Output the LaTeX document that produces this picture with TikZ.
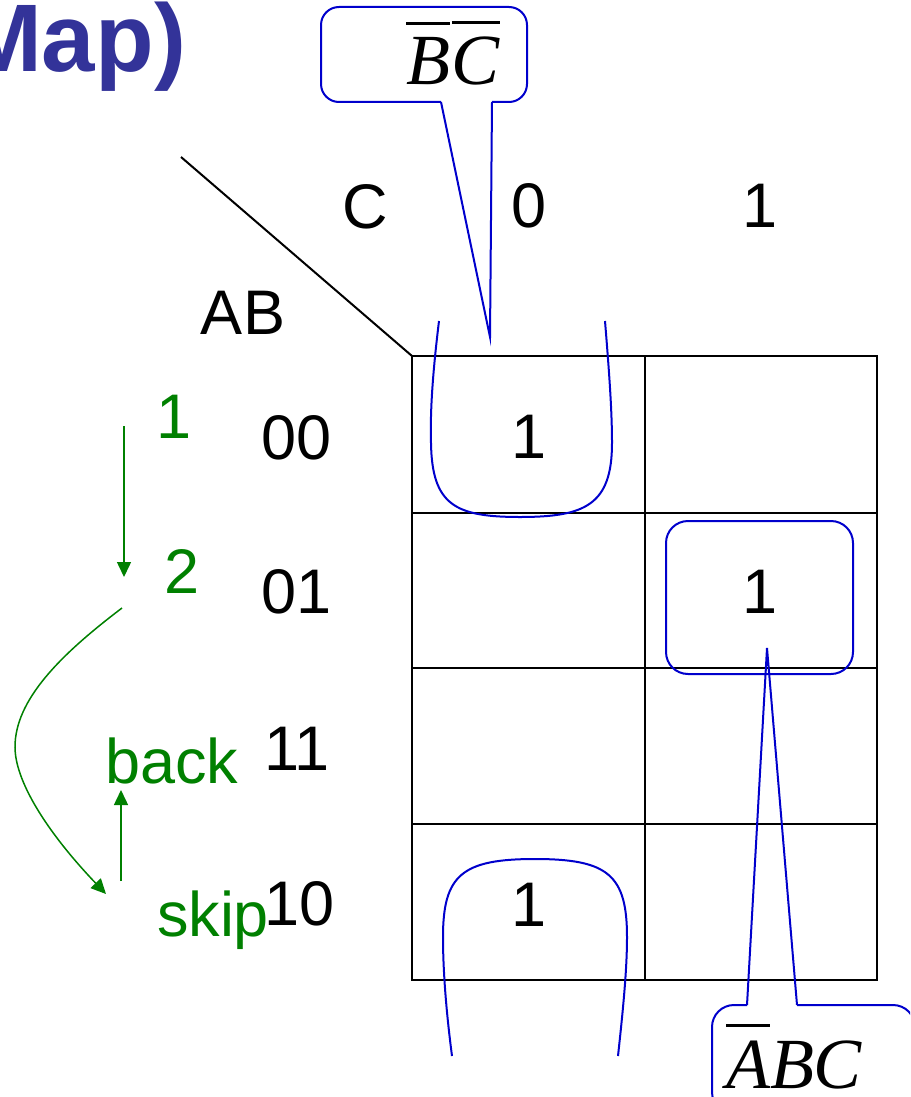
\documentclass[tikz,border=0pt]{standalone}
\usepackage{fontspec}
\setmainfont{Liberation Sans}
\newfontfamily\mathserif{Liberation Serif}
\usetikzlibrary{arrows.meta}
\definecolor{titleblue}{RGB}{51,51,153}
\definecolor{loopblue}{RGB}{0,0,204}
\definecolor{stepgreen}{RGB}{0,128,0}
% letter with a bar over it (complemented variable)
\newcommand\barred[1]{\vbox{\hrule height 3pt\kern 13pt\hbox{#1}}}
\begin{document}
\begin{tikzpicture}[x=1pt,y=-1pt,inner sep=0pt,outer sep=0pt,
  lbl/.style={font=\fontsize{63}{70}\selectfont,anchor=base},
  rowlbl/.style={lbl,anchor=base west},
  grn/.style={rowlbl,text=stepgreen},
  gridline/.style={line width=2.5pt,line cap=rect},
  blueline/.style={draw=loopblue,line width=2pt},
  greenarrow/.style={draw=stepgreen,line width=1.5pt,-{Triangle[length=15pt,width=14pt]}},
  varexpr/.style={font=\fontsize{72}{80}\selectfont\mathserif\itshape,anchor=base west}]
\useasboundingbox (0,0) rectangle (910,1097);
\clip (0,0) rectangle (910,1097);

% title fragment
\node[font=\fontsize{96}{100}\selectfont\bfseries,text=titleblue,anchor=base east] (title) at (186,72) {Map)};

% Karnaugh map grid
\coordinate (corner) at (412,356);
\draw[gridline] (corner) rectangle (877,980);
\foreach \y in {513,668,824} \draw[gridline] (412,\y) -- (877,\y);
\draw[gridline] (645,356) -- (645,980);
\coordinate (diagstart) at (181,157);
\draw[line width=2pt] (diagstart) -- (corner);

% column and row headings
\node[lbl] (hc) at (365,228) {C};
\node[lbl] (c0) at (529,227) {0};
\node[lbl] (c1) at (760,227) {1};
\node[lbl] (hab) at (243,334) {AB};
\node[rowlbl] (r00) at (261,459) {00};
\node[rowlbl] (r01) at (261,613) {01};
\node[rowlbl] (r11) at (264,770) {11};
\node[rowlbl] (r10) at (264,925) {10};

% cell entries
\node[lbl] (m0) at (529,458) {1};
\node[lbl] (m3) at (760,613) {1};
\node[lbl] (m4) at (529,926) {1};

% Gray-code ordering notes
\node[grn] (g1) at (156,438) {1};
\node[grn] (g2) at (164,593) {2};
\node[grn] (gback) at (105,783) {back};
\node[grn] (gskip) at (157,936) {skip};
\coordinate (a1s) at (124,426);
\coordinate (a1e) at (124,577);
\coordinate (a2s) at (122,608);
\coordinate (a2e) at (106,894);
\coordinate (a3s) at (121,881);
\coordinate (a3e) at (121,790);
\draw[greenarrow] (a1s) -- (a1e);
\draw[greenarrow] (a2s) .. controls (60,655) and (15,700) .. (15,747)
                        .. controls (15,780) and (45,830) .. (a2e);
\draw[greenarrow] (a3s) -- (a3e);

% groups: wrap-around pair in column C=0, single cell 011
\draw[blueline] (439,321) .. controls (433,370) and (430,410) .. (431,443)
   .. controls (432,505) and (455,517) .. (520,517)
   .. controls (585,517) and (612,505) .. (612,443)
   .. controls (612,410) and (609,370) .. (605,321);
\draw[blueline] (452,1056) .. controls (446,1010) and (443,970) .. (443,937)
   .. controls (443,875) and (462,859) .. (535,859)
   .. controls (608,859) and (627,875) .. (627,937)
   .. controls (627,970) and (623,1010) .. (618,1056);
\node[blueline,rounded corners=22pt,minimum width=187pt,minimum height=153pt] (grp) at (759.5,597.5) {};

% callout for the C=0 pair
\coordinate (tipa) at (490,337);
\draw[blueline] (441,102) -- (tipa) -- (492,102);
\draw[blueline,rounded corners=18pt] (492,102) -- (527,102) -- (527,7) -- (321,7) -- (321,102) -- (441,102);
\node[varexpr] (exprA) at (406,85) {\barred{B}\kern2pt\barred{C}};

% callout for the single cell
\coordinate (tipb) at (767,648);
\draw[blueline] (747,1005) -- (tipb) -- (797,1005);
\draw[blueline,rounded corners=22pt] (797,1005) -- (915,1005) -- (915,1114) -- (712,1114) -- (712,1005) -- (747,1005);
\node[varexpr] (exprB) at (726,1088) {\barred{A}BC};
\end{tikzpicture}
\end{document}
